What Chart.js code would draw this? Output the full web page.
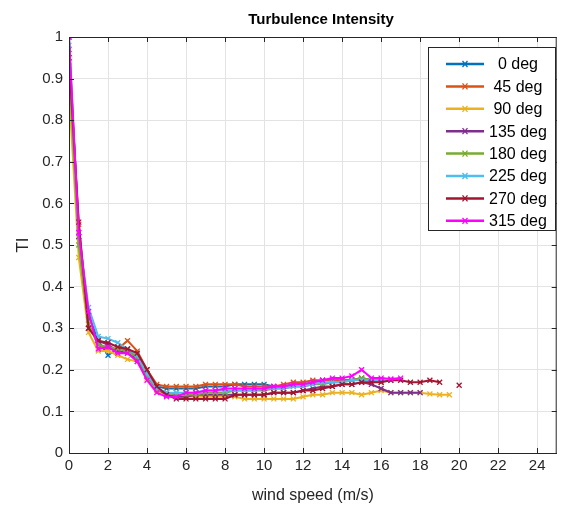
<!DOCTYPE html>
<html lang="en">
<head>
    <meta charset="UTF-8">
    <title>Turbulence Intensity</title>
    <script src="https://cdn.jsdelivr.net/npm/chart.js"></script>
    <style>
        body { margin: 0; background: #ffffff; }
        #wrap { width: 562px; height: 511px; }
    </style>
</head>
<body>
    <div id="wrap"><canvas id="tiChart" width="562" height="511"></canvas></div>

    <script>
        // wind speed bins (m/s)
        const speeds = [0, 0.5, 1, 1.5, 2, 2.5, 3, 3.5, 4, 4.5, 5, 5.5, 6, 6.5, 7, 7.5, 8, 8.5, 9, 9.5,
            10, 10.5, 11, 11.5, 12, 12.5, 13, 13.5, 14, 14.5, 15, 15.5, 16, 16.5, 17, 17.5, 18, 18.5, 19, 19.5, 20];

        const labels = ['  0 deg', ' 45 deg', ' 90 deg', '135 deg', '180 deg', '225 deg', '270 deg', '315 deg'];
        const colors = ['#0072BD', '#D95319', '#EDB120', '#7E2F8E', '#77AC30', '#4DBEEE', '#A2142F', '#FF00FF'];

        // TI per direction, one value per speed bin
        const ti0 = [1.0, 0.52, 0.33, 0.27, 0.235, 0.25, 0.25, 0.23, 0.19, 0.16, 0.155, 0.155, 0.155, 0.155, 0.16, 0.16, 0.16, 0.165, 0.165, 0.165,
            0.165, 0.16, 0.16, 0.165, 0.165, 0.17, 0.175, 0.175, 0.175, 0.175, 0.18, 0.175, 0.175];
        const ti45 = [0.95, 0.55, 0.31, 0.26, 0.25, 0.25, 0.27, 0.245, 0.2, 0.165, 0.16, 0.16, 0.16, 0.16, 0.165, 0.165, 0.165, 0.165, 0.16, 0.16,
            0.16, 0.16, 0.165, 0.17, 0.17, 0.175, 0.175, 0.175, 0.175, 0.175, 0.18, 0.175, 0.175];
        const ti90 = [0.87, 0.47, 0.29, 0.245, 0.245, 0.235, 0.225, 0.22, 0.18, 0.15, 0.14, 0.135, 0.135, 0.135, 0.135, 0.135, 0.135, 0.135, 0.13, 0.13,
            0.13, 0.13, 0.13, 0.13, 0.135, 0.14, 0.14, 0.145, 0.145, 0.145, 0.14, 0.145, 0.15, 0.145, 0.145, 0.145, 0.145, 0.142, 0.14, 0.14];
        const ti135 = [0.97, 0.52, 0.3, 0.27, 0.26, 0.245, 0.24, 0.225, 0.185, 0.155, 0.14, 0.135, 0.135, 0.14, 0.14, 0.14, 0.14, 0.14, 0.14, 0.14,
            0.14, 0.145, 0.145, 0.145, 0.15, 0.155, 0.16, 0.16, 0.165, 0.165, 0.17, 0.165, 0.155, 0.145, 0.145, 0.145, 0.145];
        const ti180 = [0.93, 0.5, 0.31, 0.26, 0.255, 0.25, 0.245, 0.23, 0.185, 0.155, 0.145, 0.14, 0.14, 0.14, 0.145, 0.145, 0.145, 0.15, 0.15, 0.15,
            0.15, 0.155, 0.155, 0.16, 0.16, 0.165, 0.165, 0.17, 0.17, 0.175, 0.18, 0.175, 0.17];
        const ti225 = [0.98, 0.53, 0.35, 0.28, 0.275, 0.265, 0.25, 0.235, 0.19, 0.155, 0.145, 0.145, 0.145, 0.145, 0.15, 0.15, 0.15, 0.15, 0.15, 0.15,
            0.155, 0.155, 0.155, 0.16, 0.16, 0.165, 0.17, 0.17, 0.17, 0.175, 0.175, 0.175, 0.175, 0.175];
        const ti270 = [0.95, 0.555, 0.3, 0.27, 0.265, 0.255, 0.25, 0.24, 0.2, 0.16, 0.14, 0.13, 0.13, 0.13, 0.13, 0.13, 0.13, 0.14, 0.14, 0.14,
            0.14, 0.145, 0.145, 0.145, 0.15, 0.15, 0.155, 0.16, 0.165, 0.165, 0.17, 0.17, 0.17, 0.175, 0.175, 0.17, 0.17, 0.175, 0.17, null, 0.163];
        const ti315 = [1.0, 0.53, 0.34, 0.25, 0.255, 0.24, 0.24, 0.22, 0.175, 0.145, 0.135, 0.135, 0.145, 0.145, 0.15, 0.15, 0.155, 0.155, 0.155, 0.155,
            0.155, 0.16, 0.16, 0.165, 0.165, 0.17, 0.175, 0.18, 0.18, 0.185, 0.2, 0.18, 0.18, 0.178, 0.18];

        const series = [ti0, ti45, ti90, ti135, ti180, ti225, ti270, ti315];

        const yTicks = [0, 0.1, 0.2, 0.3, 0.4, 0.5, 0.6, 0.7, 0.8, 0.9, 1];

        const FONT = "'Liberation Sans', Arial, Helvetica, sans-serif";
        const AXIS = '#262626';

        const datasets = series.map((vals, i) => ({
            label: labels[i],
            data: vals.map((v, k) => ({ x: speeds[k], y: v })),
            borderColor: colors[i],
            backgroundColor: colors[i],
            borderWidth: 2,
            pointStyle: 'crossRot',
            pointRadius: 3.5,
            pointBorderWidth: 1.3,
            spanGaps: false,
            order: series.length - i
        }));

        // box, inward ticks, title and legend drawn like the original figure
        const figurePlugin = {
            id: 'figure',
            afterDraw(chart) {
                const ctx = chart.ctx;
                const a = chart.chartArea;
                const xs = chart.scales.x, ys = chart.scales.y;
                ctx.save();
                ctx.strokeStyle = AXIS;
                ctx.lineWidth = 1;
                ctx.strokeRect(a.left + 0.5, a.top + 0.5, a.right - a.left - 1, a.bottom - a.top);
                ctx.beginPath();
                xs.ticks.forEach(t => {
                    const px = Math.round(xs.getPixelForValue(t.value)) + 0.5;
                    ctx.moveTo(px, a.bottom); ctx.lineTo(px, a.bottom - 5);
                    ctx.moveTo(px, a.top); ctx.lineTo(px, a.top + 5);
                });
                ys.ticks.forEach(t => {
                    const py = Math.round(ys.getPixelForValue(t.value)) + 0.5;
                    ctx.moveTo(a.left, py); ctx.lineTo(a.left + 5, py);
                    ctx.moveTo(a.right, py); ctx.lineTo(a.right - 5, py);
                });
                ctx.stroke();

                // title
                ctx.fillStyle = '#000000';
                ctx.font = 'bold 15px ' + FONT;
                ctx.textAlign = 'center';
                ctx.textBaseline = 'middle';
                ctx.fillText('Turbulence Intensity', 321, 20);

                // legend
                const lx = 428, ly = 47, lw = 127, lh = 183;
                ctx.fillStyle = '#ffffff';
                ctx.fillRect(lx, ly, lw, lh);
                ctx.strokeStyle = AXIS;
                ctx.strokeRect(lx + 0.5, ly + 0.5, lw, lh);
                ctx.font = '16px ' + FONT;
                ctx.textAlign = 'left';
                labels.forEach((lab, i) => {
                    const y = ly + 17 + i * 22.4;
                    ctx.strokeStyle = colors[i];
                    ctx.lineWidth = 2.5;
                    ctx.beginPath();
                    ctx.moveTo(446, y); ctx.lineTo(484, y);
                    ctx.stroke();
                    ctx.lineWidth = 1.3;
                    ctx.beginPath();
                    ctx.moveTo(462.5, y - 3); ctx.lineTo(467.5, y + 3);
                    ctx.moveTo(462.5, y + 3); ctx.lineTo(467.5, y - 3);
                    ctx.stroke();
                    ctx.fillStyle = '#000000';
                    ctx.fillText(lab, 489, y + 1);
                });
                ctx.restore();
            }
        };

        new Chart(document.getElementById('tiChart'), {
            type: 'line',
            data: { datasets },
            plugins: [figurePlugin],
            options: {
                responsive: false,
                animation: false,
                layout: { padding: { top: 37, right: 4, left: 0, bottom: 0 } },
                plugins: {
                    legend: { display: false },
                    tooltip: { enabled: false }
                },
                scales: {
                    x: {
                        type: 'linear',
                        min: 0,
                        max: 25,
                        afterFit: s => { s.height = 58; },
                        ticks: {
                            stepSize: 2,
                            includeBounds: false,
                            color: AXIS,
                            font: { family: FONT, size: 15 },
                            padding: 4,
                            maxRotation: 0
                        },
                        grid: { color: '#e3e3e3', drawTicks: false },
                        border: { color: AXIS },
                        title: {
                            display: true,
                            text: 'wind speed (m/s)',
                            color: AXIS,
                            font: { family: FONT, size: 16 },
                            padding: { top: 0, bottom: 6 }
                        }
                    },
                    y: {
                        min: 0,
                        max: 1,
                        afterFit: s => { s.width = 69; },
                        afterBuildTicks: s => { s.ticks = yTicks.map(v => ({ value: v })); },
                        ticks: {
                            color: AXIS,
                            font: { family: FONT, size: 15 },
                            padding: 6,
                            callback: v => String(Number(v.toFixed(1)))
                        },
                        grid: { color: '#e3e3e3', drawTicks: false },
                        border: { color: AXIS },
                        title: {
                            display: true,
                            text: 'TI',
                            color: AXIS,
                            font: { family: FONT, size: 17 },
                            padding: { top: 13, bottom: 0 }
                        }
                    }
                }
            }
        });
    </script>
</body>
</html>
